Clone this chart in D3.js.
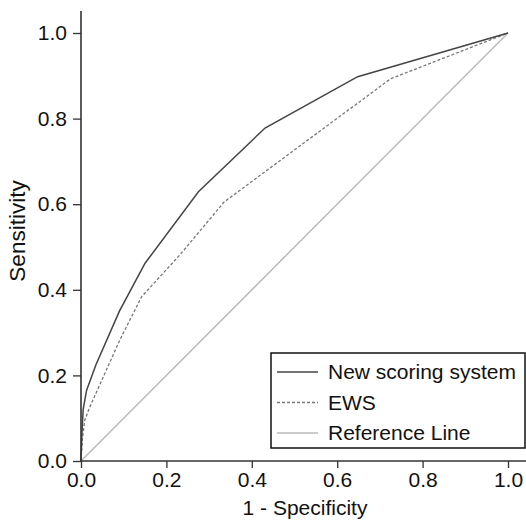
<!DOCTYPE html>
<html><head><meta charset="utf-8">
<script src="https://cdn.jsdelivr.net/npm/d3@7"></script>
<style>html,body{margin:0;padding:0;background:#fff;}svg{display:block;font-family:"Liberation Sans",Arial,sans-serif;}</style>
</head><body>
<script>
const xTicks = [0.0, 0.2, 0.4, 0.6, 0.8, 1.0];
const yTicks = [0.0, 0.2, 0.4, 0.6, 0.8, 1.0];
const newFpr = [0, 0.002, 0.005, 0.013, 0.035, 0.09, 0.15, 0.275, 0.431, 0.648, 1.0];
const newTpr = [0, 0.06, 0.12, 0.165, 0.225, 0.35, 0.462, 0.629, 0.778, 0.898, 1.0];
const ewsFpr = [0, 0.003, 0.009, 0.021, 0.056, 0.091, 0.142, 0.232, 0.335, 0.725, 1.0];
const ewsTpr = [0, 0.05, 0.096, 0.127, 0.205, 0.283, 0.384, 0.482, 0.605, 0.893, 1.0];
const refFpr = [0, 1];
const refTpr = [0, 1];
const seriesNames = ["New scoring system", "EWS", "Reference Line"];

const W = 526, H = 520;
const svg = d3.select("body").append("svg").attr("width", W).attr("height", H);
const x = d3.scaleLinear().domain([0, 1]).range([81, 508]);
const y = d3.scaleLinear().domain([0, 1]).range([461, 33]);

const styles = [
  {stroke: "#444", width: 1.5, dash: null},
  {stroke: "#777", width: 1.3, dash: "3,2"},
  {stroke: "#bbb", width: 1.5, dash: null}
];
const data = [
  newFpr.map((v, i) => [v, newTpr[i]]),
  ewsFpr.map((v, i) => [v, ewsTpr[i]]),
  refFpr.map((v, i) => [v, refTpr[i]])
];
const line = d3.line().x(d => x(d[0])).y(d => y(d[1]));
[2, 1, 0].forEach(i => {
  svg.append("path").attr("d", line(data[i])).attr("fill", "none")
    .attr("stroke", styles[i].stroke).attr("stroke-width", styles[i].width)
    .attr("stroke-dasharray", styles[i].dash);
});

// axes
const xAxis = d3.axisBottom(x).tickValues(xTicks).tickFormat(d3.format(".1f")).tickSize(7).tickSizeOuter(0);
const gx = svg.append("g").attr("transform", "translate(0,461)").call(xAxis);
gx.select(".domain").remove();
gx.append("line").attr("x1", 81).attr("x2", 526).attr("y1", 0).attr("y2", 0).attr("stroke", "#333").attr("stroke-width", 1.6);
gx.selectAll(".tick line").attr("stroke", "#333").attr("stroke-width", 1.3);
gx.selectAll(".tick text").attr("font-size", 21).attr("fill", "#111").attr("y", 11).attr("font-family", "Liberation Sans, Arial, sans-serif");

const yAxis = d3.axisLeft(y).tickValues(yTicks).tickFormat(d3.format(".1f")).tickSize(8).tickSizeOuter(0);
const gy = svg.append("g").attr("transform", "translate(81,0)").call(yAxis);
gy.select(".domain").remove();
gy.append("line").attr("x1", 0).attr("x2", 0).attr("y1", 11).attr("y2", 461).attr("stroke", "#333").attr("stroke-width", 1.6);
gy.selectAll(".tick line").attr("stroke", "#333").attr("stroke-width", 1.3);
gy.selectAll(".tick text").attr("font-size", 21).attr("fill", "#111").attr("x", -14).attr("font-family", "Liberation Sans, Arial, sans-serif");

svg.append("text").attr("x", 305).attr("y", 515).attr("text-anchor", "middle")
  .attr("font-size", 21).attr("fill", "#111").text("1 - Specificity");
svg.append("text").attr("transform", "translate(25,231) rotate(-90)").attr("text-anchor", "middle")
  .attr("font-size", 22.5).attr("fill", "#111").text("Sensitivity");

// legend
const lg = svg.append("g");
lg.append("rect").attr("x", 271).attr("y", 353).attr("width", 254).attr("height", 95)
  .attr("fill", "#fff").attr("stroke", "#111").attr("stroke-width", 1.5);
seriesNames.forEach((n, i) => {
  const yy = 372 + i * 30.5;
  lg.append("line").attr("x1", 277).attr("x2", 318).attr("y1", yy).attr("y2", yy)
    .attr("stroke", styles[i].stroke).attr("stroke-width", styles[i].width).attr("stroke-dasharray", styles[i].dash);
  lg.append("text").attr("x", 328).attr("y", yy + 7).attr("font-size", 21).attr("fill", "#111").text(n);
});
</script>
</body></html>
